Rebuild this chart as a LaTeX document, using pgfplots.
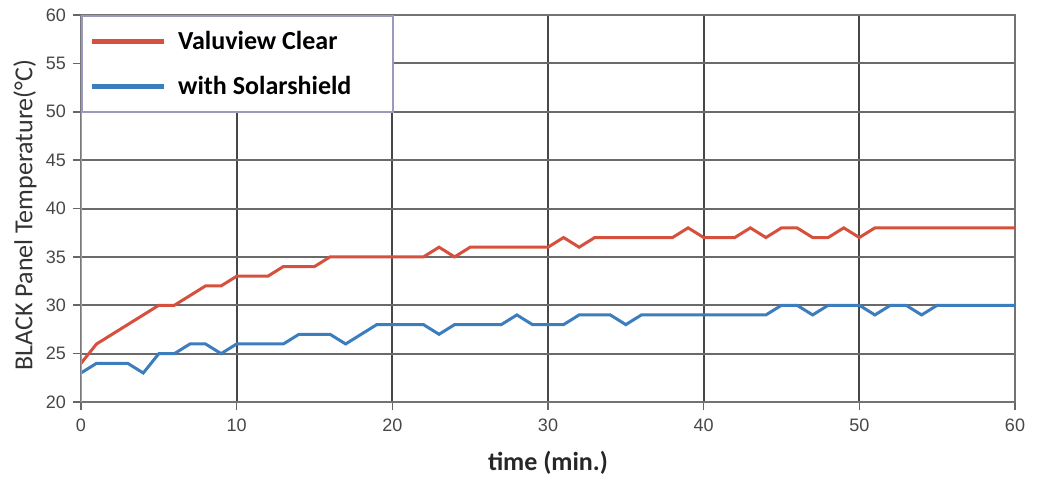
\documentclass[border=0pt]{standalone}
\usepackage{fontspec}
\setmainfont{Carlito}
\newfontfamily\tickfont{Liberation Sans}
\usepackage{pgfplots}
\pgfplotsset{compat=1.18}
\usetikzlibrary{calc}

\definecolor{clearred}{HTML}{D6503E}
\definecolor{shieldblue}{HTML}{3C7DBE}
\definecolor{frameblue}{HTML}{9A9ABD}
\definecolor{gridgray}{HTML}{6A6A6A}

\begin{document}
\begin{tikzpicture}
\begin{axis}[
  scale only axis,
  width=467pt, height=193.5pt,
  xmin=0, xmax=60, ymin=20, ymax=60,
  xtick={0,10,...,60}, ytick={20,25,...,60},
  grid=major,
  x grid style={color=black!72, line width=1pt},
  y grid style={color=gridgray, line width=1pt},
  axis line style={color=black!55, line width=0.9pt},
  tick align=outside, tick pos=left,
  major tick length=4pt,
  tick style={color=black!60, line width=0.8pt},
  /pgf/number format/assume math mode=true,
  ticklabel style={font=\tickfont\fontsize{9}{9}\selectfont, text=black!72},
  xticklabel style={yshift=-1pt},
  xlabel={\bfseries time (min.)},
  xlabel style={font=\fontsize{13}{13}\selectfont, text=black!85,
    at={(axis description cs:0.5,-0.1576)}, anchor=center},
  ylabel={BLACK Panel Temperature(°C)},
  ylabel style={font=\fontsize{13}{13}\selectfont, text=black!80,
    at={(axis description cs:-0.06,0.483)}, anchor=center},
  legend cell align=left,
  legend image code/.code={\draw[#1, line width=2.2pt] (0pt,0pt) -- (36pt,0pt);},
  legend style={at={(0,1)}, anchor=north west, draw=frameblue, line width=0.8pt,
    fill=white, inner xsep=4pt, inner ysep=1.5pt, row sep=0pt, column sep=0pt,
    nodes={inner sep=0pt, text depth=},
    font=\fontsize{13}{13}\selectfont\bfseries},
]
\addplot[clearred, line width=1.5pt] coordinates {
  (0,24) (1,26) (2,27) (3,28) (4,29) (5,30) (6,30) (7,31) (8,32) (9,32)
  (10,33) (11,33) (12,33) (13,34) (14,34) (15,34) (16,35) (17,35) (18,35) (19,35)
  (20,35) (21,35) (22,35) (23,36) (24,35) (25,36) (26,36) (27,36) (28,36) (29,36)
  (30,36) (31,37) (32,36) (33,37) (34,37) (35,37) (36,37) (37,37) (38,37) (39,38)
  (40,37) (41,37) (42,37) (43,38) (44,37) (45,38) (46,38) (47,37) (48,37) (49,38)
  (50,37) (51,38) (52,38) (53,38) (54,38) (55,38) (56,38) (57,38) (58,38) (59,38)
  (60,38)
};
\addlegendentry{\makebox[109.5pt][l]{\hspace*{6pt}\rule[-7.15pt]{0pt}{22.5pt}Valuview Clear}}
\addplot[shieldblue, line width=1.5pt] coordinates {
  (0,23) (1,24) (2,24) (3,24) (4,23) (5,25) (6,25) (7,26) (8,26) (9,25)
  (10,26) (11,26) (12,26) (13,26) (14,27) (15,27) (16,27) (17,26) (18,27) (19,28)
  (20,28) (21,28) (22,28) (23,27) (24,28) (25,28) (26,28) (27,28) (28,29) (29,28)
  (30,28) (31,28) (32,29) (33,29) (34,29) (35,28) (36,29) (37,29) (38,29) (39,29)
  (40,29) (41,29) (42,29) (43,29) (44,29) (45,30) (46,30) (47,29) (48,30) (49,30)
  (50,30) (51,29) (52,30) (53,30) (54,29) (55,30) (56,30) (57,30) (58,30) (59,30)
  (60,30)
};
\addlegendentry{\makebox[109.5pt][l]{\hspace*{6pt}\rule[-7.15pt]{0pt}{22.5pt}with Solarshield}}
\draw[frameblue, line width=1.5pt] (axis cs:0,20) -- (axis cs:0,60);
\end{axis}
\pgfresetboundingbox
\path[use as bounding box] ($(current axis.south west)+(-40.5pt,-38pt)$)
  rectangle ($(current axis.north east)+(12.5pt,7.5pt)$);
\end{tikzpicture}
\end{document}
